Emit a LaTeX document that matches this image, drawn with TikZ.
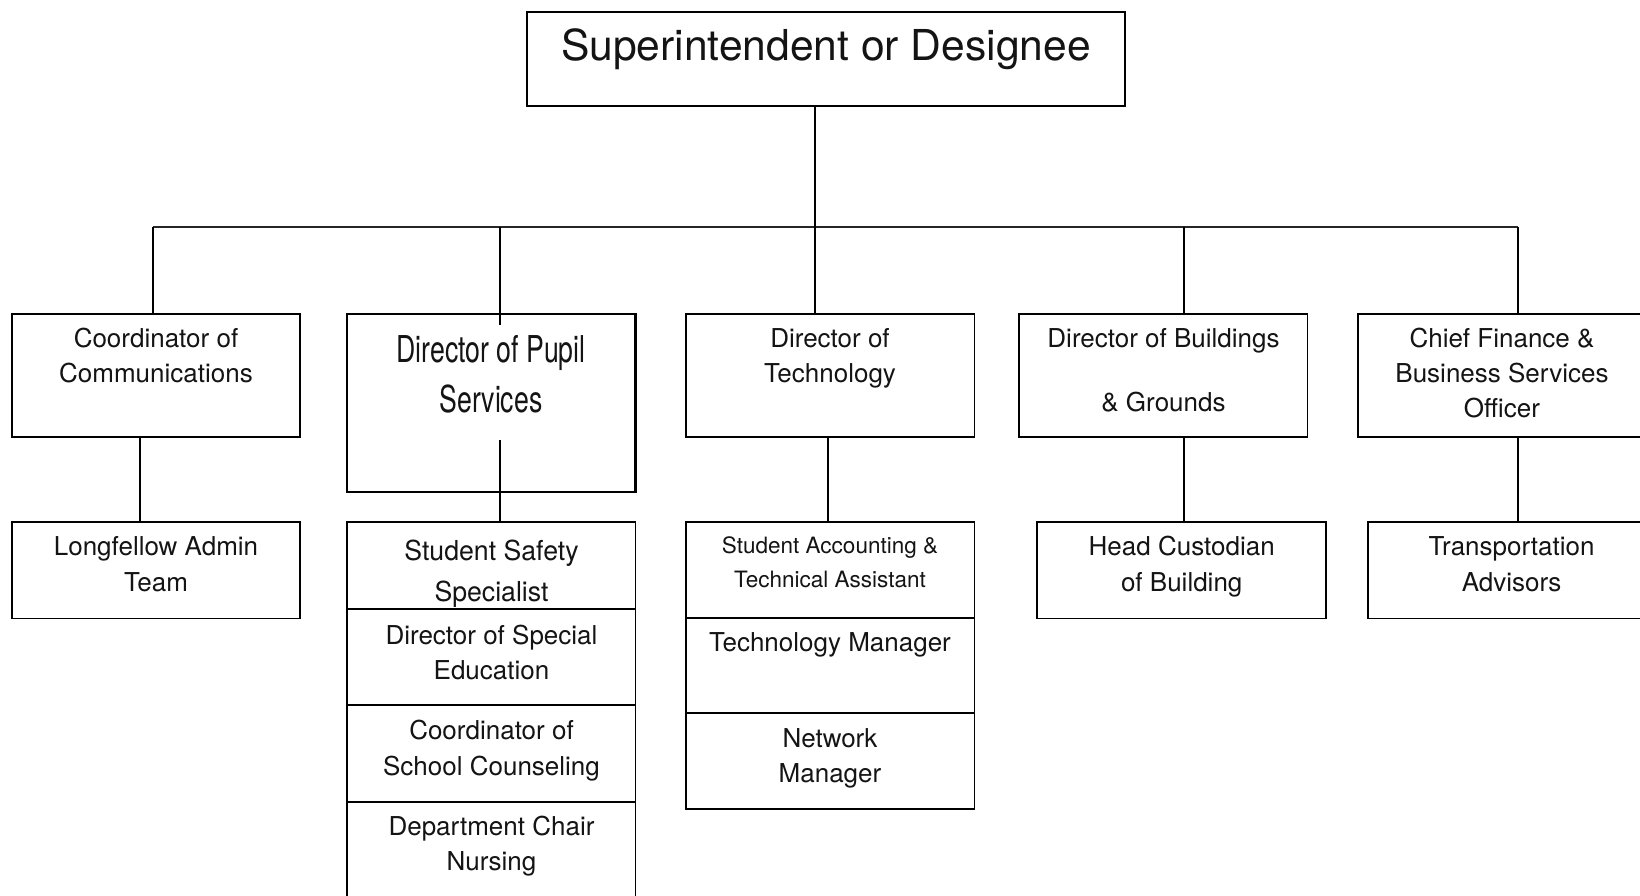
\documentclass[tikz,border=0pt]{standalone}
\usepackage{fontspec}
\setmainfont{TeX Gyre Heros}
\newfontfamily\condfont[FakeStretch=0.72]{TeX Gyre Heros}
\newfontfamily\semicondfont[FakeStretch=0.97]{TeX Gyre Heros}

\begin{document}
\begin{tikzpicture}[x=1pt,y=-1pt,
  box/.style={draw=black, line width=1.9pt, inner sep=0pt, outer sep=0pt,
              minimum width=288.5pt, anchor=north west},
  lvl/.style={box, minimum height=123pt},
  sub/.style={box, minimum height=96.5pt},
  link/.style={draw=black, line width=1.6pt},
  ln/.style={anchor=base, inner sep=0pt, outer sep=0pt, text=black!92},
  body/.style={ln, font=\fontsize{26}{30}\selectfont},
  small/.style={ln, font=\fontsize{22.5}{26}\selectfont},
  title/.style={ln, font=\fontsize{42.6}{48}\selectfont},
  cond/.style={ln, font=\condfont\fontsize{37}{42}\selectfont},
  semicond/.style={ln, font=\semicondfont\fontsize{27.5}{31}\selectfont}]

% page
\fill[white] (0,0) rectangle (1640,896);
\useasboundingbox (0,0) rectangle (1640,896);
\clip (0,0) rectangle (1640,896);

% ---------- boxes ----------
\node[box, line width=2pt, minimum width=598pt, minimum height=94.3pt] (supt) at (527,11.7) {};

\node[lvl] (comm)  at (11.7,314) {};
\node[box, minimum height=177.7pt, line width=2.1pt] (pupil) at (347,314) {};
\node[lvl] (tech)  at (686,314) {};
\node[lvl] (bldg)  at (1019,314) {};
\node[lvl] (cfo)   at (1357.6,314) {};

\node[sub] (longf) at (11.7,522) {};

\node[box, minimum height=87pt]   (safety) at (347,522) {};
\node[box, minimum height=96pt]   (sped)   at (347,609) {};
\node[box, minimum height=96.7pt] (couns)  at (347,705) {};
\node[box, minimum height=130pt]  (nurse)  at (347,801.7) {};

\node[box, minimum height=95.7pt] (acct)    at (686,522) {};
\node[box, minimum height=95.3pt] (techmgr) at (686,617.7) {};
\node[box, minimum height=96pt]   (netmgr)  at (686,713) {};

\node[sub] (custod) at (1037.3,522) {};
\node[sub] (transp) at (1367.6,522) {};

% ---------- connectors ----------
\coordinate (bus-l)      at (152.7,227);
\coordinate (bus-r)      at (1518,227);
\coordinate (drop-pupil) at (500,227);
\coordinate (drop-main)  at (815,227);
\coordinate (drop-bldg)  at (1184,227);
\coordinate (pupil-in)   at (500,325);

\draw[link, draw=black!85] (bus-l) -- (bus-r);
\draw[link] (supt.south -| drop-main) -- (drop-main |- tech.north);
\draw[link] (bus-l) -- (bus-l |- comm.north);
\draw[link] (drop-pupil) -- (pupil-in);
\draw[link] (drop-bldg) -- (drop-bldg |- bldg.north);
\draw[link] (bus-r) -- (bus-r |- cfo.north);

\coordinate (comm-out)  at (140,437);
\coordinate (pupil-out) at (500,440);
\coordinate (tech-out)  at (827.7,437);
\coordinate (bldg-out)  at (1184,437);
\coordinate (cfo-out)   at (1518,437);

\draw[link] (comm-out)  -- (comm-out |- longf.north);
\draw[link] (pupil-out) -- (pupil-out |- safety.north);
\draw[link] (tech-out)  -- (tech-out |- acct.north);
\draw[link] (bldg-out)  -- (bldg-out |- custod.north);
\draw[link] (cfo-out)   -- (cfo-out |- transp.north);

% ---------- labels ----------
\node[title] (supt-t) at (826,61) {Superintendent or Designee};

\node[body] (comm-t1) at (156,347) {Coordinator of};
\node[body] (comm-t2) at (156,382) {Communications};

\node[cond] (pupil-t1) at (491,362) {Director of Pupil};
\node[cond] (pupil-t2) at (491,412) {Services};

\node[body] (tech-t1) at (830,347) {Director of};
\node[body] (tech-t2) at (830,382) {Technology};

\node[body] (bldg-t1) at (1163.5,347) {Director of Buildings};
\node[body] (bldg-t2) at (1163.5,411) {\& Grounds};

\node[body] (cfo-t1) at (1502,347) {Chief Finance \&};
\node[body] (cfo-t2) at (1502,382) {Business Services};
\node[body] (cfo-t3) at (1502,417) {Officer};

\node[body] (longf-t1) at (156,555) {Longfellow Admin};
\node[body] (longf-t2) at (156,591) {Team};

\node[semicond] (safety-t1) at (491.5,560) {Student Safety};
\node[semicond] (safety-t2) at (491.5,601) {Specialist};

\node[body] (sped-t1) at (491.5,644) {Director of Special};
\node[body] (sped-t2) at (491.5,679) {Education};

\node[body] (couns-t1) at (491.5,739) {Coordinator of};
\node[body] (couns-t2) at (491.5,775) {School Counseling};

\node[body] (nurse-t1) at (491.5,835) {Department Chair};
\node[body] (nurse-t2) at (491.5,870) {Nursing};

\node[small] (acct-t1) at (830,553) {Student Accounting \&};
\node[small] (acct-t2) at (830,587) {Technical Assistant};

\node[body] (techmgr-t) at (830,651) {Technology Manager};

\node[body] (netmgr-t1) at (830,747) {Network};
\node[body] (netmgr-t2) at (830,782) {Manager};

\node[body] (custod-t1) at (1181.7,555) {Head Custodian};
\node[body] (custod-t2) at (1181.7,591) {of Building};

\node[body] (transp-t1) at (1511.6,555) {Transportation};
\node[body] (transp-t2) at (1511.6,591) {Advisors};

\end{tikzpicture}
\end{document}
